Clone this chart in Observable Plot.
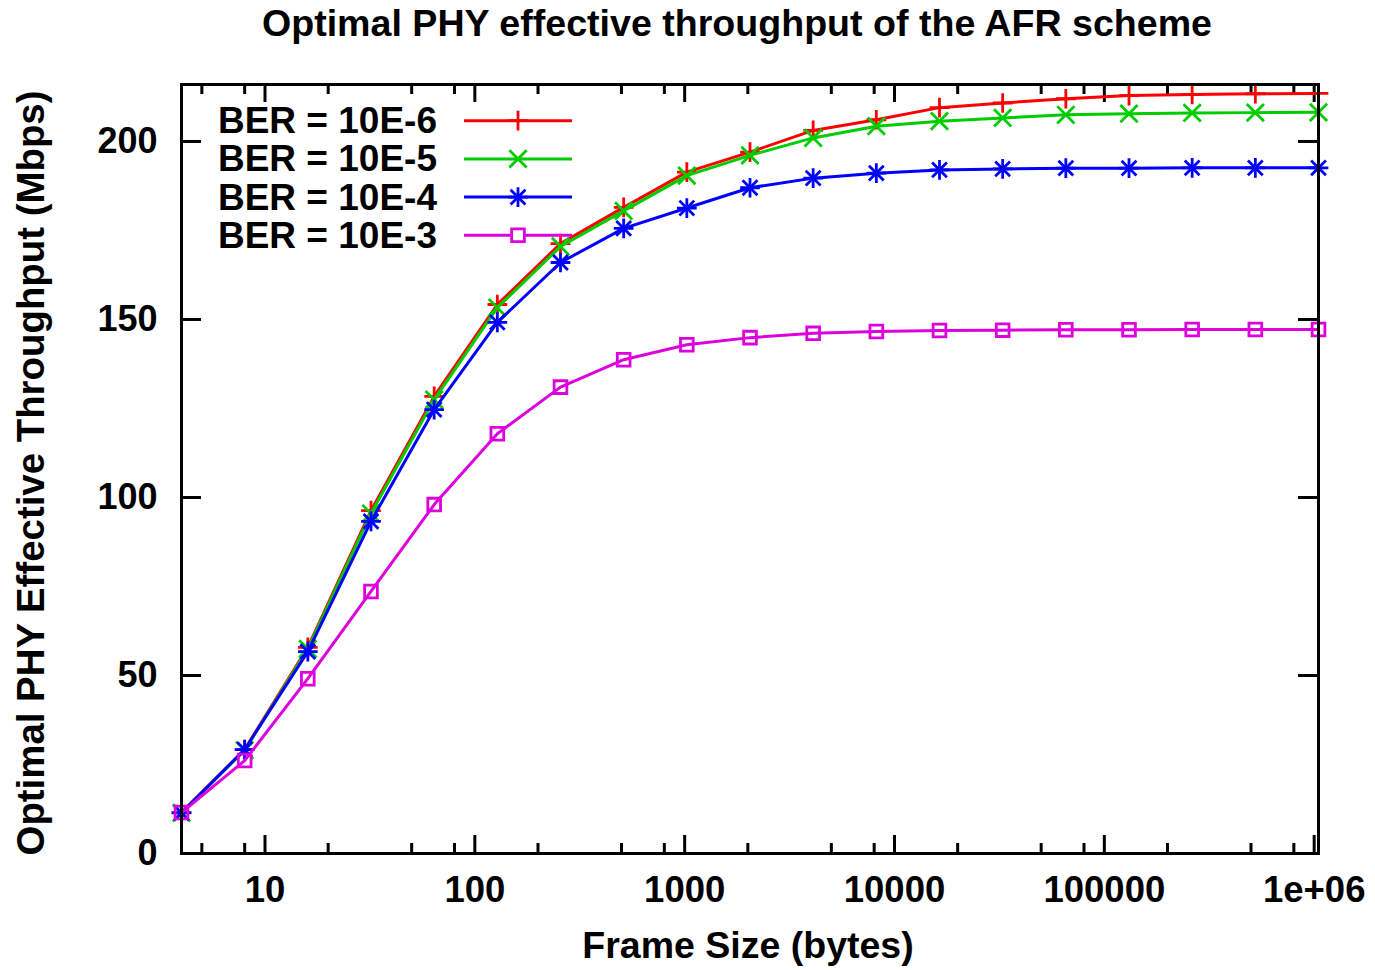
<!DOCTYPE html>
<html><head><meta charset="utf-8">
<script src="https://cdn.jsdelivr.net/npm/d3@7"></script>
<script src="https://cdn.jsdelivr.net/npm/@observablehq/plot@0.6"></script>
<style>
body{margin:0;background:#fff;font-family:"Liberation Sans",Arial,sans-serif;color:#000;}
#title{height:40px;line-height:46px;font-size:37.6px;font-weight:bold;text-align:center;padding-left:99px;width:1375px;box-sizing:border-box;white-space:nowrap;overflow:visible;}
#chart svg{display:block;}
</style></head><body>
<div id="title">Optimal PHY effective throughput of the AFR scheme</div>
<div id="chart"></div>
<script>
// ---- data ----
const frameSizes = [4, 8, 16, 32, 64, 128, 256, 512, 1024, 2048, 4096, 8192, 16384, 32768, 65536, 131072, 262144, 524288, 1048576];
const ber6 = [11.5, 29.2, 57.9, 96.3, 128.4, 154.2, 171.3, 181.5, 191.4, 197.0, 203.1, 206.1, 209.5, 210.8, 212.0, 212.9, 213.2, 213.4, 213.5];
const ber5 = [11.4, 29.0, 57.5, 95.5, 127.5, 153.3, 170.5, 180.5, 190.4, 196.1, 201.0, 204.3, 205.7, 206.6, 207.5, 207.8, 208.0, 208.1, 208.2];
const ber4 = [11.4, 29.2, 56.7, 93.3, 124.7, 149.2, 166.0, 175.6, 181.3, 187.0, 189.7, 191.1, 192.0, 192.3, 192.5, 192.5, 192.6, 192.6, 192.6];
const ber3 = [11.5, 26.1, 49.1, 73.6, 98.0, 117.9, 131.0, 138.7, 142.9, 144.9, 146.1, 146.6, 146.9, 147.0, 147.1, 147.1, 147.2, 147.2, 147.2];
const seriesLabels = ["BER = 10E-6", "BER = 10E-5", "BER = 10E-4", "BER = 10E-3"];
const seriesColors = ["#ff0000", "#00cc00", "#0000ff", "#dd00dd"];
const xTickValues = [10, 100, 1000, 10000, 100000, 1000000];
const xTickLabels = ["10", "100", "1000", "10000", "100000", "1e+06"];
const xMinorTicks = [5, 8, 20, 50, 80, 200, 500, 800, 2000, 5000, 8000, 20000, 50000, 80000, 200000, 500000, 800000];
const yTickValues = [0, 50, 100, 150, 200];

// ---- layout ----
const W = 1375, H = 930, mt = 44, mb = 117, ml = 181, mr = 57;
const frameH = H - mt - mb, frameW = W - ml - mr;
const FONT = "'Liberation Sans', Arial, sans-serif";

const allSeries = [ber6, ber5, ber4, ber3].map(vals => frameSizes.map((x, i) => ({x, y: vals[i]})));
const symbolSets = [
  [{symbol: "plus", r: 6.4}],
  [{symbol: "times", r: 7.9}],
  [{symbol: "plus", r: 6.4}, {symbol: "times", r: 6.8}],
  [{symbol: "square2", r: 8.1}]
];

const marks = [];
// ticks (inward, mirrored)
marks.push(Plot.tickX(xTickValues, {x: d => d, insetTop: frameH - 18, stroke: "black", strokeWidth: 3}));
marks.push(Plot.tickX(xTickValues, {x: d => d, insetBottom: frameH - 18, stroke: "black", strokeWidth: 3}));
marks.push(Plot.tickX(xMinorTicks, {x: d => d, insetTop: frameH - 10, stroke: "black", strokeWidth: 3}));
marks.push(Plot.tickX(xMinorTicks, {x: d => d, insetBottom: frameH - 10, stroke: "black", strokeWidth: 3}));
marks.push(Plot.tickY(yTickValues, {y: d => d, insetRight: frameW - 20, stroke: "black", strokeWidth: 3}));
marks.push(Plot.tickY(yTickValues, {y: d => d, insetLeft: frameW - 20, stroke: "black", strokeWidth: 3}));
// series
allSeries.forEach((data, s) => {
  marks.push(Plot.line(data, {x: "x", y: "y", stroke: seriesColors[s], strokeWidth: 3}));
  symbolSets[s].forEach(sym => {
    marks.push(Plot.dot(data, {x: "x", y: "y", symbol: sym.symbol, r: sym.r, stroke: seriesColors[s], strokeWidth: 2.8, fill: "none"}));
  });
});
marks.push(Plot.frame({stroke: "black", strokeWidth: 3}));
marks.push(Plot.axisX({ticks: xTickValues, tickFormat: d => xTickLabels[xTickValues.indexOf(d)], tickSize: 0, tickPadding: 23, fontSize: 36.5, fontWeight: "bold", label: null}));
marks.push(Plot.axisY({ticks: yTickValues, tickFormat: d => String(d), tickSize: 0, tickPadding: 24, fontSize: 36, fontWeight: "bold", label: null}));
marks.push(Plot.text(["Frame Size (bytes)"], {frameAnchor: "bottom", text: d => d, textAnchor: "middle", dy: 92, dx: -2, fontSize: 37.5, fontWeight: "bold", lineAnchor: "middle"}));
marks.push(Plot.text(["Optimal PHY Effective Throughput (Mbps)"], {frameAnchor: "left", text: d => d, textAnchor: "middle", rotate: -90, dx: -150, dy: 4, fontSize: 38.4, fontWeight: "bold", lineAnchor: "middle"}));

const plot = Plot.plot({
  width: W, height: H,
  marginTop: mt, marginBottom: mb, marginLeft: ml, marginRight: mr,
  style: {fontFamily: FONT, background: "#fff", color: "#000", overflow: "visible"},
  x: {type: "log", domain: [4, 1048576]},
  y: {domain: [0, 216]},
  marks
});
document.getElementById("chart").appendChild(plot);

// ---- legend (inside plot, top-left) ----
const svg = d3.select(plot);
const lg = svg.append("g").attr("font-family", FONT).attr("font-weight", "bold").attr("font-size", 37);
seriesLabels.forEach((lab, s) => {
  const cy = 80.7 + s * 38.2;
  lg.append("text").attr("x", 437).attr("y", cy + 12.5).attr("text-anchor", "end").attr("fill", "#000").text(lab);
  lg.append("line").attr("x1", 464).attr("x2", 572).attr("y1", cy).attr("y2", cy)
    .attr("stroke", seriesColors[s]).attr("stroke-width", 3);
  const symMap = {plus: d3.symbolPlus, times: d3.symbolTimes, square2: d3.symbolSquare2};
  symbolSets[s].forEach(sym => {
    lg.append("path").attr("transform", `translate(518,${cy})`)
      .attr("d", d3.symbol(symMap[sym.symbol], sym.r * sym.r * Math.PI)())
      .attr("stroke", seriesColors[s]).attr("stroke-width", 2.8).attr("fill", s === 3 ? "#fff" : "none");
  });
});
</script>
</body></html>
